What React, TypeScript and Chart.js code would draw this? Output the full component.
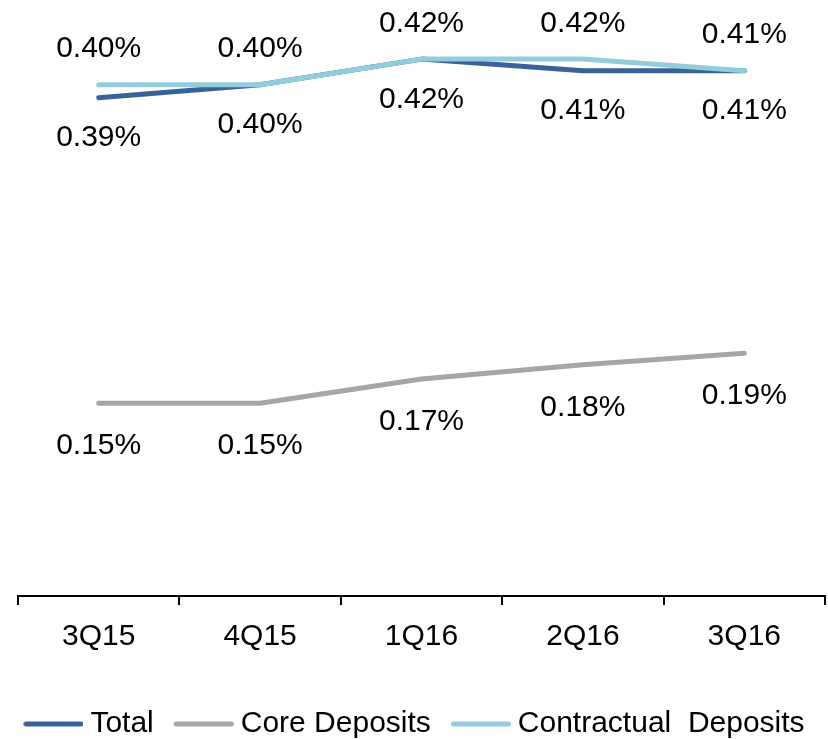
import React, { useEffect, useRef } from 'react';
import { Chart, registerables } from 'chart.js';

Chart.register(...registerables);

const FONT = "'Liberation Sans', Arial, Helvetica, sans-serif";

const categories = ['3Q15', '4Q15', '1Q16', '2Q16', '3Q16'];
const totalValues = [0.388, 0.398, 0.418, 0.409, 0.409];
const coreValues = [0.15, 0.15, 0.169, 0.18, 0.189];
const contractualValues = [0.398, 0.398, 0.418, 0.418, 0.409];
const seriesNames = ['Total', 'Core Deposits', 'Contractual  Deposits'];

const seriesColors = ['#3A6296', '#A6A6A6', '#93CDDD'];

function makeMarker(color: string): HTMLCanvasElement {
  const c = document.createElement('canvas');
  c.width = 68;
  c.height = 10;
  const g = c.getContext('2d')!;
  g.strokeStyle = color;
  g.lineWidth = 5;
  g.lineCap = 'round';
  g.beginPath();
  g.moveTo(10.5, 5);
  g.lineTo(65.5, 5);
  g.stroke();
  return c;
}

const pointLabelPlugin = {
  id: 'pointLabels',
  afterDatasetsDraw(chart: any) {
    const ctx = chart.ctx;
    ctx.save();
    ctx.font = `30px ${FONT}`;
    ctx.fillStyle = '#000';
    ctx.textAlign = 'center';
    ctx.textBaseline = 'alphabetic';
    chart.data.datasets.forEach((ds: any, i: number) => {
      const meta = chart.getDatasetMeta(i);
      meta.data.forEach((pt: any, j: number) => {
        const v = ds.data[j] as number;
        const cy = pt.y + ds.labelOffset;
        ctx.fillText(v.toFixed(2) + '%', pt.x, cy + 10.7);
      });
    });
    ctx.restore();
  },
};

export default function App() {
  const ref = useRef<HTMLCanvasElement>(null);

  useEffect(() => {
    document.body.style.margin = '0';
    const markers = seriesColors.map(makeMarker);
    const values = [totalValues, coreValues, contractualValues];
    const offsets = [38, 40, -38];
    const orders = [1, 2, 0];
    const chart = new Chart(ref.current!, {
      type: 'line',
      data: {
        labels: categories,
        datasets: values.map((d, i) => ({
          label: seriesNames[i],
          data: d,
          borderColor: seriesColors[i],
          backgroundColor: seriesColors[i],
          borderWidth: 5,
          pointRadius: 0,
          pointHoverRadius: 0,
          tension: 0,
          fill: false,
          borderCapStyle: 'round',
          borderJoinStyle: 'round',
          clip: false,
          order: orders[i],
          labelOffset: offsets[i],
        })) as any,
      },
      options: {
        responsive: false,
        animation: false,
        devicePixelRatio: 1,
        layout: { padding: { top: 18, bottom: -10, left: 0, right: 0 } },
        plugins: {
          tooltip: { enabled: false },
          legend: {
            position: 'bottom',
            labels: {
              usePointStyle: true,
              pointStyleWidth: 52,
              padding: 20,
              color: '#000',
              font: { size: 30, family: FONT },
              generateLabels: (c: any) => {
                const items = (Chart.defaults.plugins.legend.labels as any).generateLabels(c);
                items.sort((a: any, b: any) => a.datasetIndex - b.datasetIndex);
                items.forEach((it: any) => {
                  it.pointStyle = markers[it.datasetIndex];
                });
                return items;
              },
            },
          },
        },
        scales: {
          x: {
            offset: true,
            grid: {
              offset: true,
              drawOnChartArea: false,
              drawTicks: true,
              tickLength: 9,
              color: '#000',
              lineWidth: 2,
            },
            border: { display: true, color: '#000', width: 2 },
            ticks: {
              color: '#000',
              font: { size: 30, family: FONT },
              padding: 14,
              maxRotation: 0,
              autoSkip: false,
            },
            afterFit: (s: any) => {
              s.height = 93;
            },
          },
          y: {
            min: 0,
            max: 0.45,
            ticks: { display: false },
            grid: { display: false },
            border: { display: false },
            afterFit: (s: any) => {
              s.width = 18;
            },
          },
          y2: {
            type: 'linear',
            position: 'right',
            min: 0,
            max: 1,
            ticks: { display: false },
            grid: { display: false },
            border: { display: false },
            afterFit: (s: any) => {
              s.width = 3;
            },
          },
        },
      } as any,
      plugins: [pointLabelPlugin],
    });
    return () => chart.destroy();
  }, []);

  return (
    <div style={{ width: 828, height: 739 }}>
      <canvas ref={ref} width={828} height={739} style={{ display: 'block' }} />
    </div>
  );
}
